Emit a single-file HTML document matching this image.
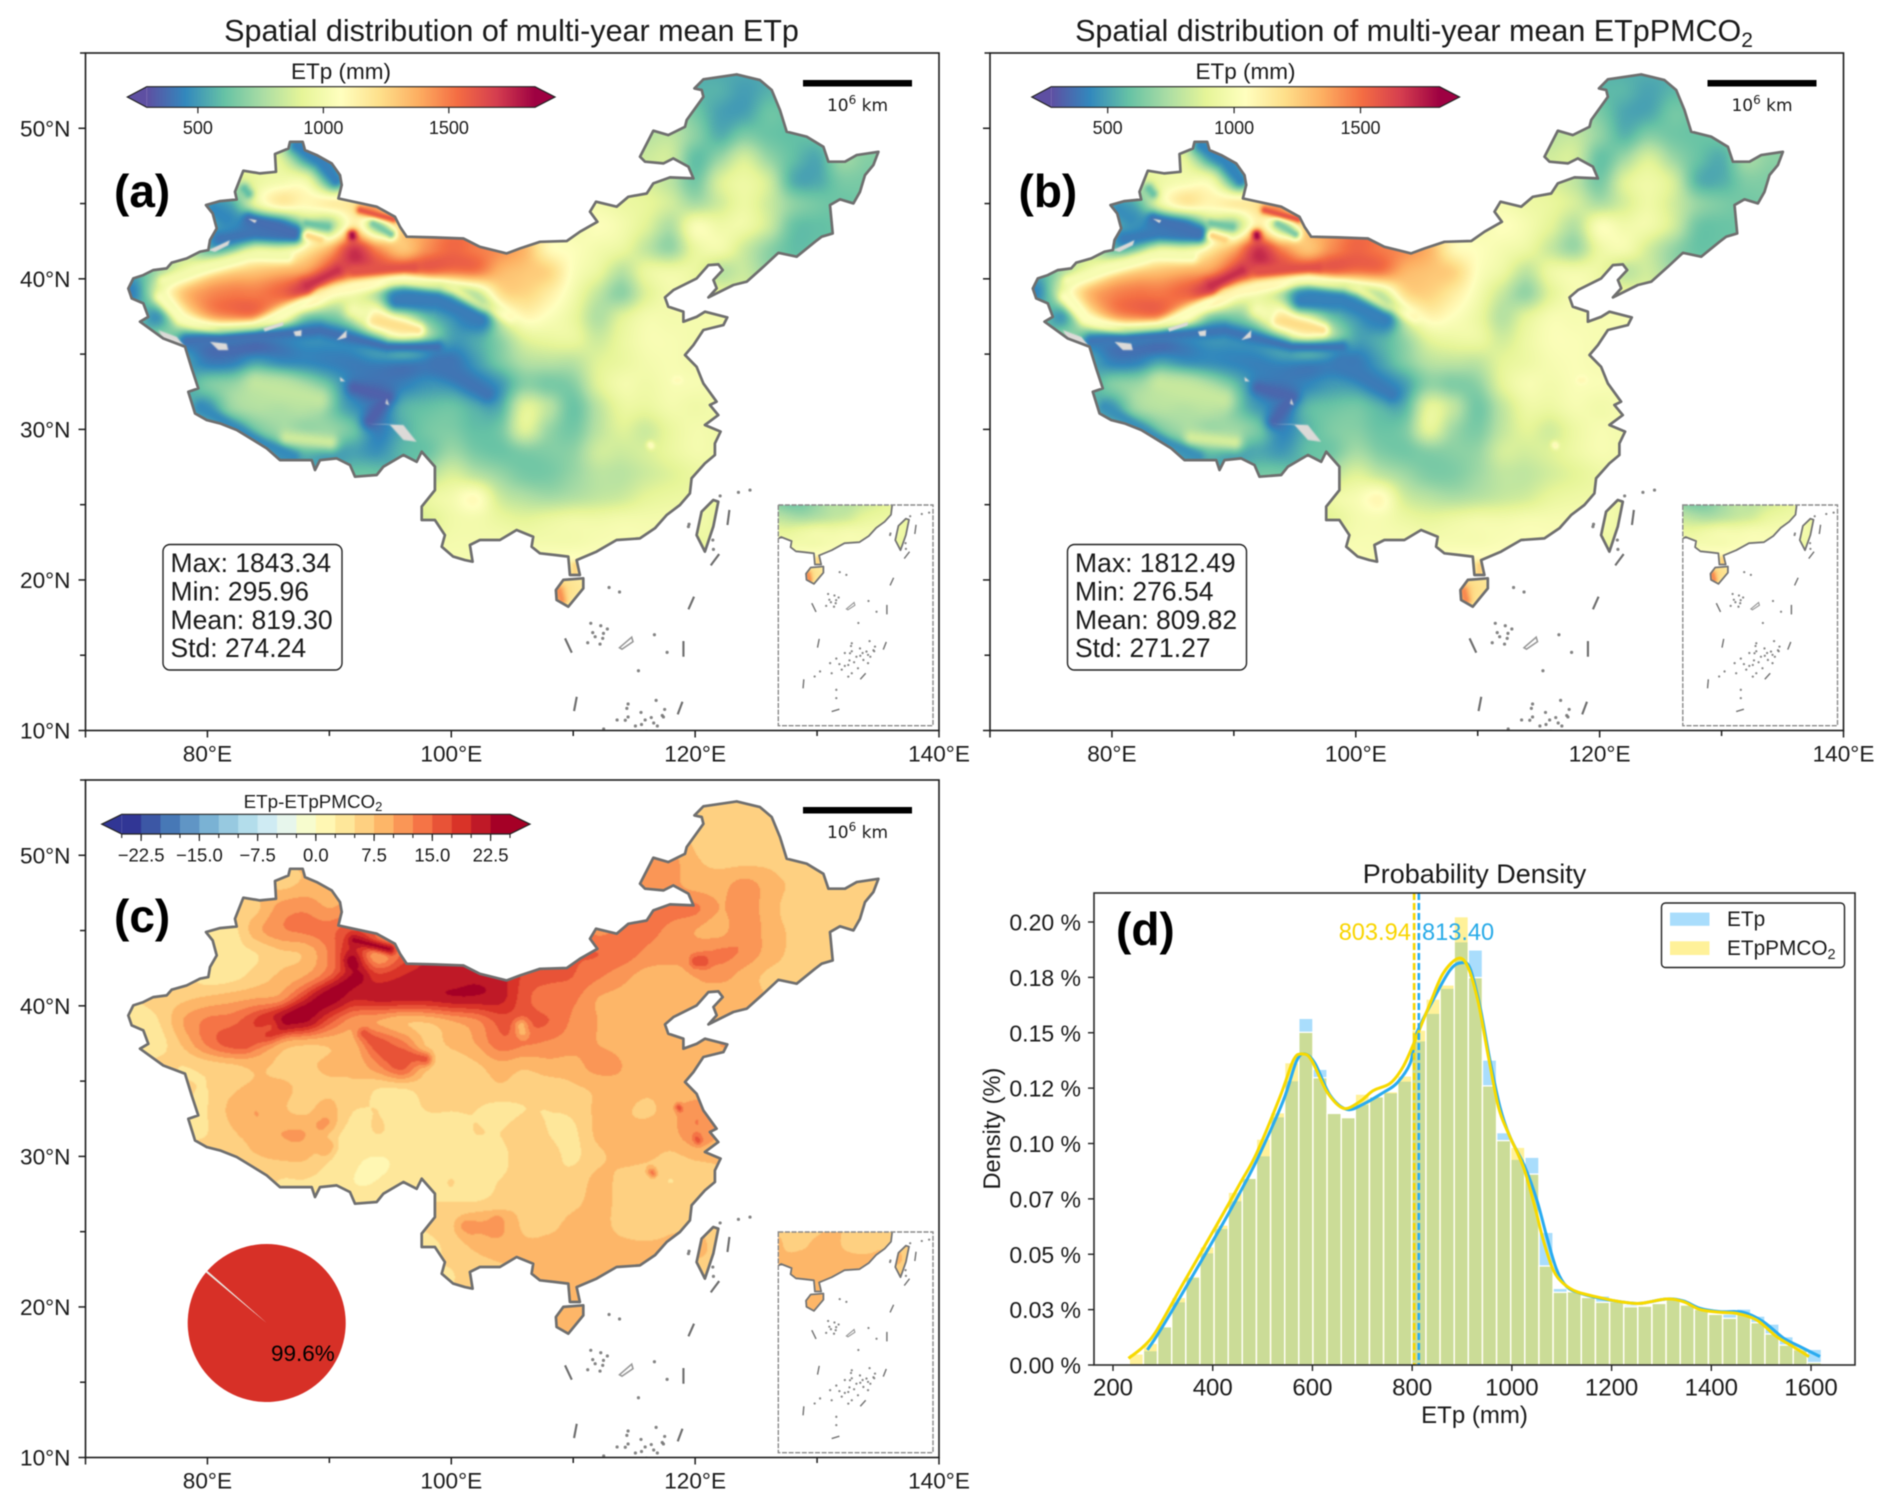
<!DOCTYPE html>
<html lang="en">
<head>
<meta charset="utf-8">
<title>Spatial distribution of multi-year mean ETp and ETpPMCO2</title>
<style>
html,body{margin:0;padding:0;background:#fff;}
#figure{position:relative;width:1892px;height:1508px;overflow:hidden;background:#fff;filter:blur(0.5px);}
#heat-canvas,#overlay{position:absolute;left:0;top:0;}
text{font-family:"Liberation Sans",Arial,sans-serif;}
</style>
</head>
<body>
<div id="figure">
<canvas id="heat-canvas" width="1892" height="1508"></canvas>
<svg id="overlay" width="1892" height="1508" viewBox="0 0 1892 1508" fill="#1a1a1a" xmlns="http://www.w3.org/2000/svg">
  <defs id="defs">
    <linearGradient id="spectral-a" x1="0" x2="1" y1="0" y2="0"></linearGradient>
  </defs>
  <text x="511.5" y="41" font-size="30.5" text-anchor="middle">Spatial distribution of multi-year mean ETp</text>
  <text x="1414" y="41" font-size="30.5" text-anchor="middle">Spatial distribution of multi-year mean ETpPMCO<tspan font-size="21" dy="6">2</tspan></text>
  <g id="panel-a"></g>
  <g id="panel-b"></g>
  <g id="panel-c"></g>
  <g id="panel-d"></g>

  <text x="114" y="207" font-size="46" font-weight="bold" fill="#000">(a)</text>
  <text x="1018.5" y="207" font-size="46" font-weight="bold" fill="#000">(b)</text>
  <text x="114" y="932" font-size="46" font-weight="bold" fill="#000">(c)</text>
  <text x="1116" y="945" font-size="46" font-weight="bold" fill="#000">(d)</text>

  <g>
    <rect x="163" y="544.5" width="179" height="125.5" rx="7" fill="#fff" stroke="#222" stroke-width="1.4"></rect>
    <text x="170.5" y="572" font-size="26.5">Max: 1843.34</text>
    <text x="170.5" y="600.5" font-size="26.5">Min: 295.96</text>
    <text x="170.5" y="629" font-size="26.5">Mean: 819.30</text>
    <text x="170.5" y="657" font-size="26.5">Std: 274.24</text>
  </g>
  <g>
    <rect x="1067.5" y="544.5" width="179" height="125.5" rx="7" fill="#fff" stroke="#222" stroke-width="1.4"></rect>
    <text x="1075" y="572" font-size="26.5">Max: 1812.49</text>
    <text x="1075" y="600.5" font-size="26.5">Min: 276.54</text>
    <text x="1075" y="629" font-size="26.5">Mean: 809.82</text>
    <text x="1075" y="657" font-size="26.5">Std: 271.27</text>
  </g>

  <text x="341" y="79" font-size="22.5" text-anchor="middle">ETp (mm)</text>
  <text x="1245.5" y="79" font-size="22.5" text-anchor="middle">ETp (mm)</text>
  <text x="313" y="808" font-size="18.8" text-anchor="middle">ETp-ETpPMCO<tspan font-size="13" dy="3">2</tspan></text>

  <g id="pie"></g>
  <text x="271" y="1361" font-size="22.5" fill="#000">99.6%</text>

  <text x="1474.5" y="883" font-size="27" text-anchor="middle">Probability Density</text>
  <text x="1474.5" y="1423" font-size="24" text-anchor="middle">ETp (mm)</text>
  <text transform="translate(1000 1128.6) rotate(-90)" font-size="23.6" text-anchor="middle">Density (%)</text>
  <text x="1338.7" y="940" font-size="23.6" fill="#f9d500">803.94</text>
  <text x="1422" y="940" font-size="23.6" fill="#29abe8">813.40</text>

  <g>
    <rect x="1661.5" y="903" width="183" height="64.5" rx="4" fill="#fff" stroke="#222" stroke-width="1.4"></rect>
    <rect x="1670" y="912.6" width="39.5" height="13.2" fill="#29abf7" fill-opacity="0.4"></rect>
    <rect x="1670" y="941.3" width="39.5" height="13.7" fill="#ffdd00" fill-opacity="0.4"></rect>
    <text x="1727" y="926" font-size="20.8">ETp</text>
    <text x="1727" y="955" font-size="20.8">ETpPMCO<tspan font-size="14.5" dy="4">2</tspan></text>
  </g>
</svg>
</div>
<script>
/* ---------- geography (degrees) ---------- */
const mainlandOutline = [[73.51,39.36],[73.92,40.03],[74.74,40.25],[75.56,40.58],[76.66,40.69],[77.07,41.07],[78.3,41.36],[79.39,41.8],[80.07,41.91],[80.21,42.57],[80.76,43.35],[80.43,44.34],[79.88,44.9],[81.03,45.16],[82.4,45.27],[82.26,45.78],[82.94,47.18],[84.31,47],[85.62,47.11],[85.54,48.29],[86.64,48.66],[86.77,49.1],[87.81,49.1],[88,48.55],[88.96,48.22],[90.19,47.67],[90.87,46.89],[91.01,46.23],[90.74,45.34],[91.97,45.12],[93.88,44.79],[95.38,44.12],[95.79,43.46],[96.34,42.8],[98.53,42.75],[100.99,42.68],[102.35,42.13],[104.54,41.69],[105.64,42.02],[107.28,42.46],[109.47,42.51],[110.56,43.13],[111.98,43.79],[111.38,44.46],[111.87,45.12],[113.57,44.79],[114.52,45.45],[116.03,45.67],[116.57,46.34],[117.94,46.74],[119.86,46.67],[119.45,47.45],[118.21,48],[117.4,47.67],[115.89,47.78],[115.48,48.11],[116.57,49.84],[117.8,49.55],[119.17,50.1],[119.31,50.55],[120.68,52.09],[120.54,52.54],[119.94,52.65],[120.68,53.25],[123.41,53.58],[125.32,53.2],[126.28,52.54],[126.96,51.21],[127.51,49.77],[129.15,49.44],[130.52,48.77],[130.93,47.78],[132.29,47.78],[133.25,48.22],[135.03,48.44],[134.62,47.56],[133.93,46.89],[133.52,45.78],[132.98,45.01],[131.88,45.28],[131.06,44.9],[131.28,43.02],[130.38,42.8],[129.83,42.46],[128.33,41.47],[126.83,41.73],[125.6,40.8],[124.23,39.81],[123.14,39.59],[121.09,38.77],[121.77,39.37],[121.5,39.92],[122.26,40.58],[121.91,40.96],[121.09,40.91],[120.13,40.03],[118.22,39.25],[117.53,38.77],[117.8,38.15],[119.04,37.82],[119.04,37.15],[120.13,37.48],[120.81,37.82],[122.64,37.44],[122.32,36.93],[120.68,36.6],[119.86,35.6],[119.17,34.94],[120.12,34.16],[120.67,33.06],[121.76,31.84],[121.21,31.62],[121.9,30.95],[120.8,30.29],[122.09,29.85],[121.62,29.07],[121.62,28.3],[120.8,27.74],[119.71,26.75],[119.57,25.75],[118.75,24.98],[117.66,24.31],[116.7,23.43],[115.47,22.76],[113.56,22.65],[111.92,21.88],[110.28,21.32],[110.55,20.33],[109.73,20.33],[109.6,21.55],[108.5,21.66],[107.27,21.77],[106.59,22.21],[106.72,22.87],[105.36,23.32],[103.99,22.65],[102.35,22.65],[101.53,22.32],[101.75,21.21],[101.12,21.32],[100.16,21.55],[99.21,22.21],[99.48,22.98],[98.66,23.98],[97.57,23.98],[97.57,24.87],[98.66,25.97],[98.66,27.52],[97.57,28.52],[97.16,27.85],[96.07,28.3],[94.43,27.52],[93.88,26.97],[92.1,26.86],[91.69,27.63],[90.6,28.07],[89.23,27.96],[88.82,27.3],[88.55,27.96],[85.95,27.96],[84.86,28.74],[83.76,29.29],[82.4,29.96],[81.03,30.4],[79.94,30.62],[78.98,31.06],[78.43,32.5],[79.25,32.72],[78.71,34.05],[78.16,35.49],[76.38,36.04],[74.47,37.15],[75.15,37.48],[74.74,38.37],[73.79,38.7]];
const hainanOutline = [[109.19,20],[110.83,20.11],[110.83,19.44],[109.6,18.22],[108.64,18.67],[108.58,19.33]];
const taiwanOutline = [[121.49,25.31],[121.9,25.2],[121.49,23.54],[120.8,21.88],[120.12,22.98],[120.53,24.53]];
const nineDashes = [[122.81,24.65,122.65,23.65],[121.97,21.72,121.28,20.97],[119.91,18.89,119.45,18.05],[119.04,15.94,119.04,14.9],[118.96,11.91,118.57,11.07],[110.29,12.24,110.07,11.29],[109.33,16.12,109.88,15.17],[116.3,8.5,115.6,7.85],[108.3,7.85,108.2,6.87],[111.9,4.34,112.9,4.6]];
const islandPoints = [[111.44,17.12],[112.26,16.96],[112.8,16.74],[112.48,16.45],[111.6,16.5],[111.8,16.23],[112.42,16.12],[112.2,15.74],[111.19,15.83],[112.94,19.5],[113.8,19.2],[116.66,16.36],[117.7,15.19],[115.35,13.97],[121.45,22.65],[121.5,22.03],[119.45,23.54],[119.5,23.7],[122.05,25.58],[123.55,25.82],[124.5,25.97],[114.5,11.76],[114.27,10.68],[115.1,10.3],[116.4,10.86],[117.5,11.4],[116,9.95],[116.6,9.6],[114.05,9.4],[112.5,10.1],[111.7,9.6],[113.2,8.9],[114.5,8.5],[115.3,9.05],[114.05,8.14],[111.9,8.5],[110.4,8.7],[109.7,8.15],[112.5,6.7],[112.5,5.8],[116.8,12],[115.56,11.2],[117.3,11],[113.6,10.7],[114.4,11.47],[114.5,10.9],[115.9,10.7],[116.6,10.5],[117.4,10.9],[114.2,9.9],[114.8,9.7],[113.6,9.3],[115.6,10.4],[116.9,10.3],[112.9,9.5]];
const reefRing = [[113.8,15.5],[114.8,16.2],[114.9,15.9],[114,15.4],[113.8,15.5]];
const noDataPatches = [[[80.07,41.91],[81.85,42.57],[81.71,42.24],[80.62,41.8]],[[75.97,36.6],[77.48,36.15],[78.16,35.49],[76.38,36.04]],[[80.21,35.82],[81.58,35.71],[81.71,35.27],[80.89,35.27]],[[93.06,30.4],[96.07,30.29],[97.16,29.18],[96.07,29.29],[94.97,30.29]],[[84.58,36.71],[86.22,37.15],[86.2,36.9],[84.7,36.5]],[[87.05,36.5],[87.73,36.6],[87.7,36.2],[87.2,36.2]],[[90.6,35.93],[91.42,36.6],[91.4,36.1]],[[83.35,44],[84.04,43.9],[83.9,43.7]],[[94.7,32.05],[94.9,31.6],[94.6,31.7]],[[90.87,33.5],[91.3,33.2],[90.9,33.2]]];

/* ---------- map value grids: [lat, first lon, values every 2 deg lon] ---------- */
const gridLats = [54,52.5,51,49.5,48,46.5,45,43.5,42,40.5,39,37.5,36,34.5,33,31.5,30,28.5,27,25.5,24,22.5,21,19.5,18];
const etpRuns = [
[52.5,122,[560,510,560]],
[51,120,[640,520,520,620]],
[49.5,116,[800,810,690,560,660,620,600]],
[48,86,[900,600,500]],
[48,116,[850,850,600,720,870,720,600,540,720,680]],
[46.5,84,[950,1000,1000,700]],
[46.5,118,[800,640,880,960,860,560,540,650,650]],
[45,82,[550,950,1150,1100,1150,1200,1500]],
[45,112,[1000,960,930,860,760,860,960,850,700,640,620]],
[43.5,80,[550,500,420,420,800,750,1150,850,1300]],
[43.5,110,[1000,1050,1000,900,780,1030,980,980,850,620,600]],
[42,80,[600,700,950,950,1150,1350,1700,1450,1300,1450,1550,1500,1450,1350,1100,1050,1000,950,820,720,950,1000,850,700,600]],
[40.5,74,[550,750,950,1150,1250,1300,1350,1400,1500,1600,1550,1500,1550,1500,1500,1350,1300,1250,1050,950,800,950,980,950,800]],
[39,74,[450,900,1300,1450,1500,1500,1550,1600,1100,1000,800,500,550,650,800,1200,1250,1150,1000,820,700,900,1000]],
[37.5,76,[500,1050,1350,1450,1450,1150,700,650,750,1150,1000,650,550,500,900,1100,1050,950,780,900,1000,1000,1000,1000]],
[36,78,[550,480,480,430,480,500,500,550,800,1100,800,520,550,700,900,950,950,850,950,1020,1020,1000]],
[34.5,80,[420,420,480,450,450,430,420,450,450,430,400,500,650,780,800,800,900,950,1000,1020,1000]],
[33,80,[650,700,720,760,680,560,450,400,430,480,480,450,500,680,650,680,900,1000,980,1020,1020]],
[31.5,80,[500,720,780,760,760,600,480,420,560,600,620,560,560,900,800,620,800,950,950,1000,980]],
[30,82,[500,650,720,680,700,620,430,550,640,660,600,640,900,720,640,800,900,850,950,1000,980]],
[28.5,86,[500,560,500,520,480,580,620,730,650,620,660,670,700,850,850,880,950,1000]],
[27,92,[620,620]],
[27,100,[880,800,720,650,650,720,800,800,850,900,950]],
[25.5,100,[1000,1080,850,780,750,780,820,850,920,950]],
[24,98,[900,980,1000,950,920,950,980,980,1000,1000,1000,1000,950]],
[22.5,100,[1000,1000,1000,1000,1000,1000,1020,1020,1020]],
[22.5,120,[950]],
[21,100,[1020]],
[21,110,[1100]],
[19.5,108,[1300,1200]],
[18,110,[1150]]
];
const diffRuns = [
[52.5,122,[6,6,6]],
[51,120,[7,6,5.5,6]],
[49.5,116,[12,11,8,7,7,7,6]],
[48,86,[7,8,8]],
[48,116,[12,11,9,9,11,9,7,6.5,7,7]],
[46.5,84,[7,11,12,10]],
[46.5,118,[13,13,10,11,9,6,5.5,7,7]],
[45,82,[4,9,12,13,14,17]],
[45,112,[12,13,13,12,10,9,12,9,7,6]],
[43.5,80,[3.5,4,5,7,8,13,20,9,15]],
[43.5,110,[15,15,14,12,11,11,13,12,9,7,7]],
[42,80,[3.5,4,6,8,10,14,19,18,20,21,21,22,21,17,16,15,13,11,9,9,10,11,9,7,6.5]],
[40.5,74,[5,6,7,8,9,10,11,17,22,20,21,21,21,22,22,21,16,13,13,10,9,8,8,9,8]],
[39,74,[4,5,10,13,14,17,19,22,16,11,10,8,8,10,12,16,16,15,12,10,8,8,8]],
[37.5,76,[4,8,13,16,13,9,8,8,9,15,13,7,8,10,14,13,12,11,10,9,8,8,8,10]],
[36,78,[5,6,7,8,7,7,8,8,12,16,7,6,7,9,8,9,9,11,10,8,8,8]],
[34.5,80,[5,7,8,8,7,7,7,5,5,6,6,6,7,6,6,7,8,9,8,8,8]],
[33,80,[5,8,10,8,7,8,5,5,4,5,5,5,4,5,5,5.5,8,8,7,9,12]],
[31.5,80,[5,7,9,10,10,6,4,5,4,4,4,5,5,7,5,4.5,8,8,9,9,12]],
[30,82,[5,7,8,8,5,3,2.5,3,4,4,4,4,7,6,4.5,7,8,8,7,8,8]],
[28.5,86,[5,5,4,2.5,2.5,3,4,5,4,5,6,5,6,8,7,6,5,6]],
[27,92,[3,3]],
[27,100,[5,5,6,7,6,7,8,7,6,6,6]],
[25.5,100,[7,10,10,7,7,8,8,7,6,7]],
[24,98,[4,6,8,9,8,8,8,8,8,8,8,8,7]],
[22.5,100,[5,6,7,8,8,8,9,9,9]],
[22.5,120,[7]],
[21,100,[5]],
[21,110,[9]],
[19.5,108,[10,8.5]],
[18,110,[8]]
];
/* thin terrain features: value, spread in degrees, path in lon/lat */
const etpRidges = [
{value:1040,spread:.4,path:[[76.11,38.81],[77.75,37.37],[81.03,36.49],[83.77,36.82],[86.5,37.93],[89.23,39.03]]},
{value:1090,spread:.42,path:[[89.23,39.03],[91.97,39.58],[96.07,40.03],[100.17,39.25],[102.35,38.15],[104.8,37.5]]},
{value:1000,spread:.4,path:[[76.4,39.9],[81,41],[83.2,41.6],[86.5,41.5]]},
{value:1720,spread:.55,path:[[88.14,39.59],[90.6,40.58]]},
{value:1620,spread:.35,path:[[92,40.6],[96.9,40.8]]},
{value:430,spread:.7,path:[[87.3,48.9],[89.3,47.9],[90.5,46.6]]},
{value:400,spread:.7,path:[[81,42.7],[83.76,43.1],[87.05,43]]},
{value:380,spread:.5,path:[[83.35,44],[87,43.1]]},
{value:620,spread:.3,path:[[88.1,43.7],[89.8,43.5]]},
{value:650,spread:.35,path:[[93.6,43.7],[95,43]]},
{value:1600,spread:.3,path:[[92.5,44.6],[95.2,44]]},
{value:1820,spread:.35,path:[[91.83,42.97],[91.85,42.85]]},
{value:1250,spread:.35,path:[[88.2,42.9],[89.2,42.6]]},
{value:420,spread:.9,path:[[95.5,38.6],[98.8,38.6],[102.35,37.3]]},
{value:1220,spread:.45,path:[[93.6,37.3],[97.2,36.6]]},
{value:1000,spread:.7,path:[[92,38],[92.5,37.8]]},
{value:390,spread:.55,path:[[78.3,35.9],[83.76,36.2],[89.2,36.6],[94.7,35.5],[98.8,35.5]]},
{value:345,spread:.6,path:[[92,32.8],[94.7,32.2],[93.3,30.6]]},
{value:400,spread:.7,path:[[98.8,34.4],[102.9,32.4]]},
{value:820,spread:1,path:[[84,33],[89,32]]},
{value:850,spread:.6,path:[[86.5,29.5],[90,29.2]]},
{value:460,spread:.45,path:[[79.4,31.5],[81.85,30.3],[84.6,29.1],[87,28.2]]},
{value:1450,spread:.35,path:[[108.8,19.3],[109,18.7]]},
{value:1250,spread:.3,path:[[110.1,21],[110.1,20.4]]},
{value:450,spread:.6,path:[[80.5,44.6],[81.5,44]]},
{value:600,spread:.4,path:[[83,46],[83.3,45.7]]},
{value:1090,spread:.25,path:[[116.3,29],[116.35,28.95]]},
{value:1090,spread:.3,path:[[118.4,33.3],[118.6,33.3]]}
];
const diffRidges = [
{value:23,spread:.4,path:[[92,44.4],[94.9,43.8]]},
{value:24,spread:.5,path:[[91.8,43],[91.9,42.8]]},
{value:23.5,spread:.75,path:[[92.3,41.9],[88.3,39.8],[85,38.6]]},
{value:17,spread:.7,path:[[85,38.6],[83,37.8]]},
{value:16,spread:.5,path:[[92.8,38.2],[94.8,36.9],[97.8,36.5]]},
{value:9,spread:.5,path:[[105.7,38.7],[105.8,38.3]]},
{value:16,spread:.25,path:[[118.6,33.3],[118.7,33.2]]},
{value:16,spread:.3,path:[[120.1,31.2],[120.2,31.1]]},
{value:13,spread:.3,path:[[116.4,29],[116.5,28.9]]},
{value:11,spread:.5,path:[[101.2,25.4],[101.5,25.3]]},
{value:12,spread:.4,path:[[103.7,25.7],[103.6,25.2]]},
{value:17,spread:.5,path:[[120.1,43],[120.6,43]]},
{value:10.5,spread:.7,path:[[89.3,32.1],[89.6,32.3]]},
{value:10,spread:.7,path:[[82.8,33.2],[83.2,33]]},
{value:9.5,spread:.6,path:[[84.3,31],[84.6,31]]},
{value:9.5,spread:.5,path:[[89.8,30.7],[89.6,30.5]]}
];

/* ---------- colour scales ---------- */
const spectralStops = ['#5e4fa2','#3288bd','#66c2a5','#abdda4','#e6f598','#ffffbf','#fee08b','#fdae61','#f46d43','#d53e4f','#9e0142'];
const rdylbuStops = ['#313695','#4575b4','#74add1','#abd9e9','#e0f3f8','#ffffbf','#fee090','#fdae61','#f46d43','#d73027','#a50026'];
function rgbOf(h){return [parseInt(h.slice(1,3),16),parseInt(h.slice(3,5),16),parseInt(h.slice(5,7),16)];}
const spectralRgb = spectralStops.map(rgbOf), rdylbuRgb = rdylbuStops.map(rgbOf);
function sample(table,t){
  t=Math.max(0,Math.min(1,t));
  const p=t*(table.length-1), i=Math.min(table.length-2,Math.floor(p)), f=p-i, a=table[i], b=table[i+1];
  return [a[0]+(b[0]-a[0])*f,a[1]+(b[1]-a[1])*f,a[2]+(b[2]-a[2])*f];
}
const css = c => 'rgb('+c.map(Math.round).join(',')+')';
const SVGNS='http://www.w3.org/2000/svg';
function node(tag,attrs,parent,txt){
  const el=document.createElementNS(SVGNS,tag);
  for(const k in attrs) el.setAttribute(k,attrs[k]);
  if(txt!==undefined) el.textContent=txt;
  parent.appendChild(el);
  return el;
}

/* ---------- panels ---------- */
const PW=853.5, PH=677.5;
const panelA={id:'panel-a',key:'a',left:85.5,top:53,lonLabels:true,latLabels:true};
const panelB={id:'panel-b',key:'b',left:990,top:53,lonLabels:true,latLabels:false};
const panelC={id:'panel-c',key:'c',left:85.5,top:780,lonLabels:true,latLabels:true};
const lonX = (p,lon)=>p.left+(lon-70)*PW/70;
const latY = (p,lat)=>p.top+(55-lat)*PH/45;
const insetLon0=105,insetLon1=125,insetLat0=2.8,insetLat1=26.8;
const insetBox = p=>({x:p.left+692.8,y:p.top+452,w:154.7,h:220.7});
const insetX = (p,lon)=>{const b=insetBox(p);return b.x+(lon-insetLon0)*b.w/(insetLon1-insetLon0);};
const insetY = (p,lat)=>{const b=insetBox(p);return b.y+(insetLat1-lat)*b.h/(insetLat1-insetLat0);};

/* ---------- fields ---------- */
const fieldW=854, fieldH=678;
function buildGrid(runs){
  const cols=33, rows=gridLats.length, g=[];
  for(let r=0;r<rows;r++){g.push(new Array(cols).fill(NaN));}
  runs.forEach(run=>{
    const r=gridLats.indexOf(run[0]);
    run[2].forEach((v,i)=>{g[r][(run[1]-72)/2+i]=v;});
  });
  for(let pass=0;pass<40;pass++){
    let missing=false; const copy=g.map(x=>x.slice());
    for(let r=0;r<rows;r++)for(let c=0;c<cols;c++){
      if(!isNaN(g[r][c]))continue;
      let s=0,n=0;
      for(let dr=-1;dr<=1;dr++)for(let dc=-1;dc<=1;dc++){
        const rr=r+dr,cc=c+dc;
        if(rr>=0&&rr<rows&&cc>=0&&cc<cols&&!isNaN(g[rr][cc])){s+=g[rr][cc];n++;}
      }
      if(n)copy[r][c]=s/n; else missing=true;
    }
    for(let r=0;r<rows;r++)g[r]=copy[r];
    if(!missing)break;
  }
  return g;
}
function weights(t){return [(-t+2*t*t-t*t*t)/2,(2-5*t*t+3*t*t*t)/2,(t+4*t*t-3*t*t*t)/2,(-t*t+t*t*t)/2];}
function buildField(runs,ridges){
  const g=buildGrid(runs), rows=g.length, cols=g[0].length;
  const f=new Float32Array(fieldW*fieldH);
  for(let j=0;j<fieldH;j++){
    const lat=55-(j+.5)/fieldH*45, rp=(54-lat)/1.5, r0=Math.floor(rp), wr=weights(rp-r0);
    for(let i=0;i<fieldW;i++){
      const lon=70+(i+.5)/fieldW*70, cp=(lon-72)/2, c0=Math.floor(cp), wc=weights(cp-c0);
      let v=0;
      for(let a=0;a<4;a++){
        const rr=g[Math.max(0,Math.min(rows-1,r0-1+a))];
        for(let b=0;b<4;b++){ v+=wr[a]*wc[b]*rr[Math.max(0,Math.min(cols-1,c0-1+b))]; }
      }
      f[j*fieldW+i]=v;
    }
  }
  ridges.forEach(rd=>{
    const pts=rd.path.map(q=>[(q[0]-70)*fieldW/70,(55-q[1])*fieldH/45]);
    const s=rd.spread*15, m=s*2.6;
    const x0=Math.max(0,Math.floor(Math.min(...pts.map(q=>q[0]))-m)), x1=Math.min(fieldW-1,Math.ceil(Math.max(...pts.map(q=>q[0]))+m));
    const y0=Math.max(0,Math.floor(Math.min(...pts.map(q=>q[1]))-m)), y1=Math.min(fieldH-1,Math.ceil(Math.max(...pts.map(q=>q[1]))+m));
    for(let j=y0;j<=y1;j++)for(let i=x0;i<=x1;i++){
      let best=1e12;
      for(let k=0;k<pts.length-1;k++){
        const ax=pts[k][0],ay=pts[k][1],dx=pts[k+1][0]-ax,dy=pts[k+1][1]-ay;
        let t=((i-ax)*dx+(j-ay)*dy)/(dx*dx+dy*dy); t=Math.max(0,Math.min(1,t));
        const ex=ax+t*dx-i,ey=ay+t*dy-j,d=ex*ex+ey*ey;
        if(d<best)best=d;
      }
      const w=Math.exp(-best/(s*s)), idx=j*fieldW+i;
      f[idx]=f[idx]*(1-w)+rd.value*w;
    }
  });
  return f;
}
const etpField=buildField(etpRuns,etpRidges);
const diffField=buildField(diffRuns,diffRidges);
const pmField=new Float32Array(etpField.length);
for(let i=0;i<pmField.length;i++)pmField[i]=etpField[i]-diffField[i];

/* ---------- paint heat maps ---------- */
const etpMin=295.96, etpMax=1843.34, pmMin=276.54, pmMax=1812.49;
const diffLevelsMin=-25, diffLevelStep=2.5, diffLevelCount=20;
const diffColors=[];
for(let i=0;i<diffLevelCount;i++){diffColors.push(sample(rdylbuRgb,i/(diffLevelCount-1)));}
const colorA=v=>sample(spectralRgb,(v-etpMin)/(etpMax-etpMin));
const colorB=v=>sample(spectralRgb,(v-pmMin)/(pmMax-pmMin));
const colorC=v=>diffColors[Math.max(0,Math.min(diffLevelCount-1,Math.floor((v-diffLevelsMin)/diffLevelStep)))];
const ctx=document.getElementById('heat-canvas').getContext('2d');
function tracePolys(c){
  c.beginPath();
  [mainlandOutline,hainanOutline,taiwanOutline].forEach(poly=>{
    poly.forEach((q,i)=>{
      const x=(q[0]-70)*fieldW/70,y=(55-q[1])*fieldH/45;
      if(i)c.lineTo(x,y);else c.moveTo(x,y);
    });
    c.closePath();
  });
}
function paint(p,field,colorOf,withPatches){
  const off=document.createElement('canvas'); off.width=fieldW; off.height=fieldH;
  const oc=off.getContext('2d'), img=oc.createImageData(fieldW,fieldH), d=img.data;
  for(let i=0;i<field.length;i++){
    const c=colorOf(field[i]);
    d[i*4]=c[0];d[i*4+1]=c[1];d[i*4+2]=c[2];d[i*4+3]=255;
  }
  oc.putImageData(img,0,0);
  if(withPatches){
    oc.fillStyle='#dcdad8';
    noDataPatches.forEach(poly=>{
      oc.beginPath();
      poly.forEach((q,i)=>{const x=(q[0]-70)*fieldW/70,y=(55-q[1])*fieldH/45;if(i)oc.lineTo(x,y);else oc.moveTo(x,y);});
      oc.closePath();oc.fill();
    });
  }
  const sx=PW/fieldW, sy=PH/fieldH;
  ctx.save();
  ctx.setTransform(sx,0,0,sy,p.left,p.top);
  tracePolys(ctx);ctx.clip();
  ctx.drawImage(off,0,0);
  ctx.restore();
  const b=insetBox(p);
  const isx=b.w/(insetLon1-insetLon0)/(fieldW/70), isy=b.h/(insetLat1-insetLat0)/(fieldH/45);
  ctx.save();
  ctx.beginPath();ctx.rect(b.x,b.y,b.w,b.h);ctx.clip();
  ctx.setTransform(isx,0,0,isy,b.x-(insetLon0-70)*fieldW/70*isx,b.y-(55-insetLat1)*fieldH/45*isy);
  tracePolys(ctx);ctx.clip();
  ctx.drawImage(off,0,0);
  ctx.restore();
}
paint(panelA,etpField,colorA,true);
paint(panelB,pmField,colorB,true);
paint(panelC,diffField,colorC,false);

/* ---------- gradient stops ---------- */
const grad=document.getElementById('spectral-a');
spectralStops.forEach((s,i)=>{node('stop',{offset:(i/(spectralStops.length-1)),'stop-color':s},grad);});

/* ---------- map axes ---------- */
const lonTickValues=[70,80,90,100,110,120,130,140];
const lonTickLabels=['','80°E','','100°E','','120°E','','140°E'];
const latTickValues=[10,15,20,25,30,35,40,45,50,55];
const latTickLabels=['10°N','','20°N','','30°N','','40°N','','50°N',''];
function polyD(poly,fx,fy,close){return poly.map((q,i)=>(i?'L':'M')+fx(q[0]).toFixed(1)+' '+fy(q[1]).toFixed(1)).join('')+(close?'Z':'');}
function drawGeo(parent,fx,fy,lineWidth,dotR,color){
  const g=node('g',{},parent);
  
  
  [mainlandOutline,hainanOutline,taiwanOutline].forEach(poly=>{
    const path=node('path',{d:polyD(poly,fx,fy,true),fill:'none',stroke:color,'stroke-width':lineWidth,'stroke-linejoin':'round'},g);
    
    
  });
  nineDashes.forEach(n=>{
    const dash=node('line',{x1:fx(n[0]),y1:fy(n[1]),x2:fx(n[2]),y2:fy(n[3]),stroke:color,'stroke-width':lineWidth*.8},g);
    
    
  });
  islandPoints.forEach(q=>{
    const dot=node('circle',{cx:fx(q[0]),cy:fy(q[1]),r:dotR,fill:color,'fill-opacity':.85},g);
    
    
  });
  const ring=node('path',{d:polyD(reefRing,fx,fy,true),fill:'none',stroke:'#999','stroke-width':dotR},g);
  
  
}
function drawPanel(p){
  const root=document.getElementById(p.id), defs=document.getElementById('defs');
  const clipMain=node('clipPath',{id:'clip-main-'+p.key},defs);
  node('rect',{x:p.left,y:p.top,width:PW,height:PH},clipMain);
  const b=insetBox(p);
  const clipInset=node('clipPath',{id:'clip-inset-'+p.key},defs);
  node('rect',{x:b.x,y:b.y,width:b.w,height:b.h},clipInset);
  const gMain=node('g',{'clip-path':'url(#clip-main-'+p.key+')'},root);
  
  
  drawGeo(gMain,lon=>lonX(p,lon),lat=>latY(p,lat),2.7,1.6,'#6f6f6f');
  const gInset=node('g',{'clip-path':'url(#clip-inset-'+p.key+')'},root);
  
  
  drawGeo(gInset,lon=>insetX(p,lon),lat=>insetY(p,lat),1.8,1.15,'#757575');
  const box=node('rect',{x:b.x,y:b.y,width:b.w,height:b.h,fill:'none',stroke:'#8a8a8a','stroke-width':1.4,'stroke-dasharray':'5 1.6'},root);
  
  
  const frame=node('rect',{x:p.left,y:p.top,width:PW,height:PH,fill:'none',stroke:'#1c1c1c','stroke-width':1.6},root);
  
  
  lonTickValues.forEach((lon,i)=>{
    const x=lonX(p,lon), major=lonTickLabels[i]!=='' || lon===70;
    const t=node('line',{x1:x,x2:x,y1:p.top+PH,y2:p.top+PH+(major?7:5.5),stroke:'#1c1c1c','stroke-width':1.5},root);
    
    
    if(lonTickLabels[i]){
      const l=node('text',{x:x,y:p.top+PH+31,'font-size':22.6,'text-anchor':'middle'},root,lonTickLabels[i]);
      
      
    }
  });
  latTickValues.forEach((lat,i)=>{
    const y=latY(p,lat), major=latTickLabels[i]!=='';
    const t=node('line',{y1:y,y2:y,x1:p.left,x2:p.left-(major?7:5.5),stroke:'#1c1c1c','stroke-width':1.5},root);
    
    
    if(major&&p.latLabels){
      const l=node('text',{x:p.left-15,y:y+8,'font-size':22.6,'text-anchor':'end'},root,latTickLabels[i]);
      
      
    }
  });
  const bar=node('rect',{x:p.left+717.5,y:p.top+27,width:109,height:6.5,fill:'#000'},root);
  
  
  const sc=node('text',{x:p.left+772,y:p.top+58,'font-size':17,'text-anchor':'middle'},root);
  
  
  sc.style.fontFamily='"DejaVu Sans",sans-serif';
  sc.appendChild(document.createTextNode('10'));
  const sup=node('tspan',{'font-size':12,dy:-7},sc,'6');
  
  
  const rest=node('tspan',{dy:7},sc,' km');
  
  
}
drawPanel(panelA);drawPanel(panelB);drawPanel(panelC);

/* ---------- colour bars ---------- */
const etpBarTicks=[500,1000,1500];
function drawSpectralBar(parentId,key,dx,vmin,vmax){
  const root=document.getElementById(parentId);
  const L=146.7+dx,R=535+dx,T=86.7,B=107.3,tipL=127.3+dx,tipR=555+dx,mid=(T+B)/2;
  const leftTip=node('polygon',{points:[tipL,mid,L,T,L,B].join(' '),fill:spectralStops[0]},root);
  
  
  const rightTip=node('polygon',{points:[R,T,tipR,mid,R,B].join(' '),fill:spectralStops[10]},root);
  
  
  const body=node('rect',{x:L,y:T,width:R-L,height:B-T,fill:'url(#spectral-a)'},root);
  
  
  const edge=node('polygon',{points:[tipL,mid,L,T,R,T,tipR,mid,R,B,L,B].join(' '),fill:'none',stroke:'#222','stroke-width':1.2},root);
  
  
  etpBarTicks.forEach(v=>{
    const x=L+(v-vmin)*(R-L)/(vmax-vmin);
    const t=node('line',{x1:x,x2:x,y1:B,y2:B+6,stroke:'#222','stroke-width':1.2},root);
    
    
    const l=node('text',{x:x,y:134,'font-size':18,'text-anchor':'middle'},root,String(v));
    
    
  });
}
drawSpectralBar('panel-a','a',0,etpMin,etpMax);
drawSpectralBar('panel-b','b',904.5,pmMin,pmMax);
const diffBarTickValues=[-22.5,-15,-7.5,0,7.5,15,22.5];
const diffBarTickLabels=['\u221222.5','\u221215.0','\u22127.5','0.0','7.5','15.0','22.5'];
(function(){
  const root=document.getElementById('panel-c');
  const L=121.7,R=510,T=814.3,B=834,tipL=101.7,tipR=530,mid=(T+B)/2,seg=(R-L)/diffLevelCount;
  const lt=node('polygon',{points:[tipL,mid,L,T,L,B].join(' '),fill:css(diffColors[0])},root);
  
  
  const rt=node('polygon',{points:[R,T,tipR,mid,R,B].join(' '),fill:css(diffColors[19])},root);
  
  
  diffColors.forEach((c,i)=>{
    const s=node('rect',{x:L+i*seg,y:T,width:seg+.4,height:B-T,fill:css(c)},root);
    
    
  });
  const edge=node('polygon',{points:[tipL,mid,L,T,R,T,tipR,mid,R,B,L,B].join(' '),fill:'none',stroke:'#222','stroke-width':1.2},root);
  
  
  for(let i=0;i<=diffLevelCount;i++){
    const x=L+i*seg;
    const t=node('line',{x1:x,x2:x,y1:B,y2:B+4,stroke:'#222','stroke-width':1.1},root);
    
    
  }
  diffBarTickValues.forEach((v,i)=>{
    const x=L+(v-diffLevelsMin)/diffLevelStep*seg;
    const t=node('line',{x1:x,x2:x,y1:B,y2:B+7,stroke:'#222','stroke-width':1.2},root);
    
    
    const l=node('text',{x:x,y:861.7,'font-size':18.5,'text-anchor':'middle'},root,diffBarTickLabels[i]);
    
    
  });
})();

/* ---------- pie ---------- */
const pieShares=[99.6,0.4];
const pieColors=['#d73027','#e9e4de'];
(function(){
  const root=document.getElementById('pie'),cx=266.7,cy=1323,r=79;
  let a=140.2;
  pieShares.forEach((s,i)=>{
    const sweep=s/100*360, a1=a+sweep;
    const x0=cx+r*Math.cos(a*Math.PI/180),y0=cy-r*Math.sin(a*Math.PI/180),x1=cx+r*Math.cos(a1*Math.PI/180),y1=cy-r*Math.sin(a1*Math.PI/180);
    const d='M'+cx+' '+cy+'L'+x0+' '+y0+'A'+r+' '+r+' 0 '+(sweep>180?1:0)+' 0 '+x1+' '+y1+'Z';
    const w=node('path',{d:d,fill:pieColors[i]},root);
    
    
    a=a1;
  });
})();

/* ---------- density panel ---------- */
const binStart=232.7, binWidth=28.33;
const etpDensity=[0,.0065,.0173,.0286,.0396,.0507,.0617,.0742,.0843,.0945,.1121,.1284,.1565,.1335,.1136,.1117,.1177,.1211,.1229,.1282,.1464,.1588,.1701,.1911,.1874,.1377,.1049,.0929,.0938,.0599,.0346,.0331,.0309,.0312,.029,.0271,.0266,.0281,.0301,.0271,.0251,.0229,.023,.0253,.0221,.0185,.0128,.0068,.0071];
const pmDensity=[.005,.0098,.0173,.0305,.0399,.0534,.0632,.078,.0843,.102,.1139,.1365,.1502,.1297,.1136,.1117,.1223,.1211,.1234,.1305,.1512,.1652,.1716,.2024,.1749,.126,.1013,.0983,.0862,.0447,.0328,.0331,.0305,.0283,.0286,.0263,.0266,.0278,.0298,.0271,.0251,.0229,.0211,.0233,.0191,.014,.009,.0078,.0011];
const kdeEtpX=[269,291,341,415,461,495,542,568,585,605,635,669,702,742,769,796,809,842,876,899,916,936,956,976,996,1026,1050,1070,1090,1110,1137,1177,1217,1257,1310,1344,1377,1417,1464,1504,1544,1578,1618];
const kdeEtpY=[.0068,.0143,.0331,.0617,.0805,.0956,.1196,.1372,.1404,.1362,.1219,.1154,.1178,.123,.1272,.1362,.1497,.1648,.1783,.1816,.1791,.1618,.1377,.1166,.1031,.0895,.0745,.0579,.0429,.0354,.0324,.0301,.0286,.0278,.0298,.0289,.0256,.0241,.0238,.0196,.0123,.0083,.0038];
const kdePmX=[231,261,288,341,408,455,488,535,562,580,598,629,662,695,722,756,782,806,836,862,893,913,933,953,973,993,1023,1046,1063,1083,1103,1130,1177,1217,1257,1310,1344,1377,1417,1451,1491,1531,1564,1596];
const kdePmY=[.003,.0083,.0158,.0369,.0632,.082,.0956,.1211,.1377,.1404,.1377,.1234,.1159,.1189,.1239,.1272,.1347,.1467,.1633,.1768,.1836,.1791,.1633,.1392,.1166,.1046,.0895,.0715,.0564,.0429,.0369,.0331,.0304,.0286,.0278,.0298,.0286,.0251,.0238,.0233,.0203,.0128,.0083,.0038];
const meanEtp=813.40, meanPm=803.94;
const densityXTicks=[200,400,600,800,1000,1200,1400,1600];
const densityYTicks=[0,.025,.05,.075,.1,.125,.15,.175,.2];
const densityYLabels=['0.00 %','0.03 %','0.05 %','0.07 %','0.10 %','0.12 %','0.15 %','0.18 %','0.20 %'];
const dLeft=1094,dRight=1855,dTop=893,dBottom=1365;
const xD=u=>1113+(u-200)*0.4986;
const yD=v=>dBottom-v*2215;
(function(){
  const root=document.getElementById('panel-d');
  const g1=node('g',{},root);
  
  
  etpDensity.forEach((v,i)=>{
    if(!v)return;
    const x=xD(binStart+i*binWidth),w=xD(binStart+(i+1)*binWidth)-x;
    const b=node('rect',{x:x,y:yD(v),width:w,height:dBottom-yD(v),fill:'#29abf7','fill-opacity':.4,stroke:'#fff','stroke-width':1.3},g1);
    
    
  });
  const g2=node('g',{},root);
  
  
  pmDensity.forEach((v,i)=>{
    const x=xD(binStart+i*binWidth),w=xD(binStart+(i+1)*binWidth)-x;
    const b=node('rect',{x:x,y:yD(v),width:w,height:dBottom-yD(v),fill:'#ffdd00','fill-opacity':.4,stroke:'#fff','stroke-width':1.3},g2);
    
    
  });
  function smooth(xs,ys){
    const p=xs.map((u,i)=>[xD(u),yD(ys[i])]);
    let d='M'+p[0][0].toFixed(1)+' '+p[0][1].toFixed(1);
    for(let i=0;i<p.length-1;i++){
      const a=p[Math.max(0,i-1)],b=p[i],c=p[i+1],e=p[Math.min(p.length-1,i+2)];
      d+='C'+(b[0]+(c[0]-a[0])/6).toFixed(1)+' '+(b[1]+(c[1]-a[1])/6).toFixed(1)+' '+(c[0]-(e[0]-b[0])/6).toFixed(1)+' '+(c[1]-(e[1]-b[1])/6).toFixed(1)+' '+c[0].toFixed(1)+' '+c[1].toFixed(1);
    }
    return d;
  }
  const k1=node('path',{d:smooth(kdeEtpX,kdeEtpY),fill:'none',stroke:'#29abf0','stroke-width':3},root);
  
  
  const k2=node('path',{d:smooth(kdePmX,kdePmY),fill:'none',stroke:'#f7d900','stroke-width':3},root);
  
  
  const m1=node('line',{x1:xD(meanPm),x2:xD(meanPm),y1:dTop,y2:dBottom,stroke:'#f7d600','stroke-width':2.6,'stroke-dasharray':'7 3'},root);
  
  
  const m2=node('line',{x1:xD(meanEtp),x2:xD(meanEtp),y1:dTop,y2:dBottom,stroke:'#29abf0','stroke-width':2.6,'stroke-dasharray':'7 3'},root);
  
  
  const f=node('rect',{x:dLeft,y:dTop,width:dRight-dLeft,height:dBottom-dTop,fill:'none',stroke:'#2a2a2a','stroke-width':1.6},root);
  
  
  densityXTicks.forEach(u=>{
    const x=xD(u);
    const t=node('line',{x1:x,x2:x,y1:dBottom,y2:dBottom+6,stroke:'#222','stroke-width':1.4},root);
    
    
    const l=node('text',{x:x,y:1395.5,'font-size':24,'text-anchor':'middle'},root,String(u));
    
    
  });
  densityYTicks.forEach((v,i)=>{
    const y=yD(v);
    const t=node('line',{x1:dLeft,x2:dLeft-6,y1:y,y2:y,stroke:'#222','stroke-width':1.4},root);
    
    
    const l=node('text',{x:1081,y:y+8.5,'font-size':23,'text-anchor':'end'},root,densityYLabels[i]);
    
    
  });
})();
</script>
</body>
</html>
